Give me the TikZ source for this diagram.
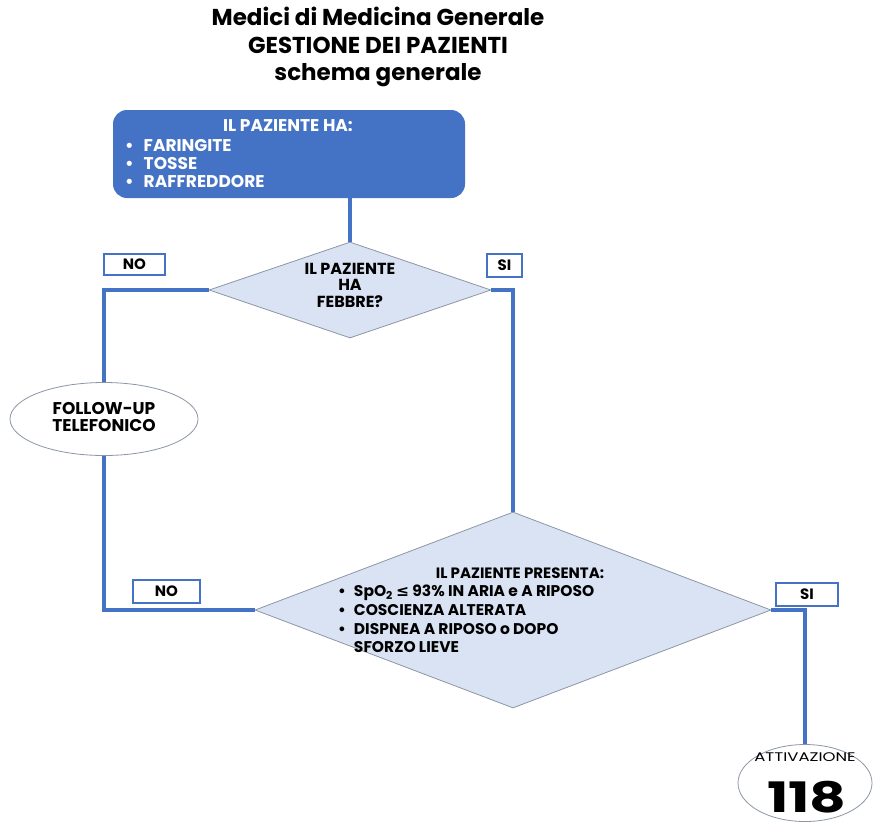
\documentclass[tikz,border=0pt]{standalone}
\usepackage{fontspec}
\setmainfont{Poppins}
\newfontfamily\simboli{DejaVu Sans}
\newfontfamily\largo[FakeStretch=1.32]{Poppins}
\usetikzlibrary{shapes.geometric}
\definecolor{bluscuro}{RGB}{68,114,196}
\definecolor{bluchiaro}{RGB}{218,227,243}
\definecolor{bordo}{RGB}{140,150,165}

\begin{document}
\begin{tikzpicture}[x=1pt,y=-1pt,
    box/.style={rectangle,rounded corners=14pt,fill=bluscuro,minimum width=352pt,minimum height=88pt},
    rombo/.style={diamond,fill=bluchiaro,draw=bordo,line width=0.8pt,inner sep=0pt},
    esito/.style={ellipse,draw=bordo,fill=white,line width=0.8pt,inner sep=0pt},
    etichetta/.style={rectangle,draw=bluscuro,line width=2.2pt,fill=white,inner sep=0pt,font=\bfseries\fontsize{15}{16}\selectfont},
    testo/.style={font=\bfseries\fontsize{17}{18}\selectfont,align=center,inner sep=0pt},
    freccia/.style={draw=bluscuro,line width=3.8pt}
]
        \useasboundingbox (0,0) rectangle (877,827);

        % titolo
        \node[font=\bfseries\fontsize{23}{27.5}\selectfont,align=center] (titolo) at (378,47)
            {Medici di Medicina Generale\\GESTIONE DEI PAZIENTI\\schema generale};

        % sintomi
        \node[box] (sintomi) at (289,154) {};
        \node[testo,text=white] (sintomitit) at (288,126) {IL PAZIENTE HA:};
        \node[testo,text=white,anchor=west,align=left] (sintomilista) at (125,164)
            {\textbullet\hspace{10pt}FARINGITE\\\textbullet\hspace{10pt}TOSSE\\\textbullet\hspace{10pt}RAFFREDDORE};

        % febbre
        \node[rombo,minimum width=282pt,minimum height=96pt] (febbre) at (350,290) {};
        \node[testo,font=\bfseries\fontsize{16}{16.5}\selectfont] (febbretxt) at (350,285) {IL PAZIENTE\\HA\\FEBBRE?};

        % follow-up
        \node[esito,minimum width=188pt,minimum height=73pt] (followup) at (104,419) {};
        \node[testo,font=\bfseries\fontsize{17}{17}\selectfont] (followuptxt) at (104,417) {FOLLOW-UP\\TELEFONICO};

        % criteri
        \node[rombo,minimum width=516pt,minimum height=196pt] (criteri) at (513,610) {};
        \node[testo,font=\bfseries\fontsize{15}{18.7}\selectfont] (criteritit) at (520,573) {IL PAZIENTE PRESENTA:};
        \node[testo,anchor=north west,align=left,font=\bfseries\fontsize{15.5}{18.7}\selectfont] (criterilista) at (338,585)
            {\textbullet\hspace{8pt}SpO\textsubscript{2} {\simboli ≤} 93\% IN ARIA e A RIPOSO\\
             \textbullet\hspace{8pt}COSCIENZA ALTERATA\\
             \textbullet\hspace{8pt}DISPNEA A RIPOSO o DOPO\\
             \phantom{\textbullet}\hspace{8pt}SFORZO LIEVE};

        % 118
        \node[esito,minimum width=134pt,minimum height=77pt] (soccorso) at (805,783) {};
        \node[font=\largo\fontsize{12.5}{14}\selectfont,inner sep=0pt] (soccorsotit) at (805,757) {ATTIVAZIONE};
        \node[font=\bfseries\fontsize{42}{42}\selectfont,inner sep=0pt,xscale=1.35] (soccorsonum) at (807,797) {118};

        % collegamenti
        \draw[freccia] (febbre.north |- sintomi.south) -- (febbre.north);
        \draw[freccia] (febbre.west) -| (followup.north);
        \draw[freccia] (followup.south) |- (criteri.west);
        \draw[freccia] (febbre.east) -| (criteri.north);
        \draw[freccia] (criteri.east) -| (soccorso.north);

        % risposte
        \node[etichetta,minimum width=61pt,minimum height=21pt] (no1) at (134.5,264.5) {NO};
        \node[etichetta,minimum width=35pt,minimum height=23pt] (si1) at (504.5,265.5) {SI};
        \node[etichetta,minimum width=67pt,minimum height=23pt] (no2) at (166.5,591.5) {NO};
        \node[etichetta,minimum width=62pt,minimum height=23pt] (si2) at (807,594.5) {SI};
\end{tikzpicture}
\end{document}
